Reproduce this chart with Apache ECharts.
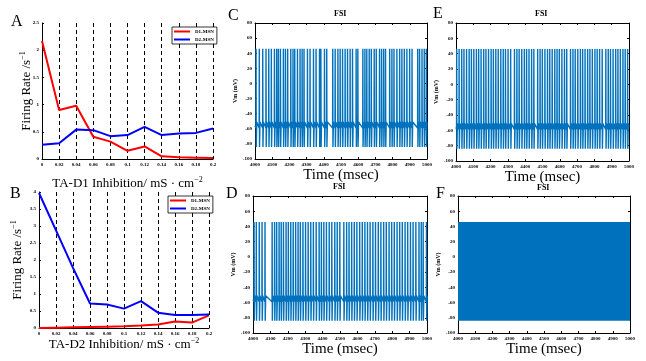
<!DOCTYPE html>
<html>
<head>
<meta charset="utf-8">
<script src="https://cdn.jsdelivr.net/npm/echarts@6/dist/echarts.min.js"></script>
<style>
  html, body { margin: 0; padding: 0; background: #fff; }
  #chart { width: 646px; height: 361px; }
</style>
</head>
<body>
<div id="chart"></div>
<script>
// firing rate vs inhibition (panels A, B)
var inhibition = [0, 0.02, 0.04, 0.06, 0.08, 0.1, 0.12, 0.14, 0.16, 0.18, 0.2];
var d1RateA = [2.17, 0.90, 0.98, 0.41, 0.32, 0.15, 0.23, 0.05, 0.03, 0.025, 0.02];
var d2RateA = [0.26, 0.29, 0.54, 0.53, 0.42, 0.44, 0.59, 0.44, 0.47, 0.48, 0.56];
var d1RateB = [0.0, 0.01, 0.02, 0.03, 0.04, 0.05, 0.07, 0.10, 0.19, 0.16, 0.37];
var d2RateB = [3.97, 2.87, 1.77, 0.72, 0.69, 0.57, 0.79, 0.45, 0.38, 0.38, 0.40];

// FSI spike times, msec (panels C, D, E)
var spikesC = [4006, 4025, 4045, 4064, 4080, 4095, 4113, 4126, 4136, 4148, 4165, 4177, 4190, 4208, 4221, 4231,
  4247, 4262, 4274, 4285, 4305, 4320, 4340, 4355, 4375, 4383, 4404, 4417, 4452, 4466, 4482, 4495, 4509, 4524,
  4538, 4553, 4567, 4588, 4598, 4627, 4639, 4650, 4664, 4676, 4693, 4705, 4724, 4736, 4748, 4759, 4783, 4796,
  4808, 4825, 4841, 4854, 4868, 4883, 4899, 4913, 4946, 4957, 4971, 4984, 4996];
var spikesD = [4006, 4019, 4036, 4052, 4069, 4110, 4124, 4136, 4150, 4162, 4175, 4190, 4203, 4217, 4231, 4245,
  4259, 4272, 4287, 4302, 4317, 4332, 4347, 4363, 4380, 4393, 4407, 4422, 4438, 4453, 4470, 4484, 4499, 4522,
  4538, 4552, 4567, 4582, 4597, 4613, 4628, 4643, 4658, 4673, 4689, 4704, 4720, 4735, 4751, 4766, 4782, 4797,
  4812, 4828, 4843, 4858, 4874, 4889, 4905, 4920, 4936, 4954, 4967, 4978, 4997];
var spikesE = [4004, 4018, 4033, 4046, 4061, 4076, 4089, 4103, 4118, 4131, 4145, 4160, 4173, 4188, 4203, 4216,
  4230, 4244, 4259, 4273, 4286, 4301, 4316, 4338, 4352, 4365, 4380, 4395, 4408, 4422, 4437, 4450, 4472, 4486,
  4499, 4514, 4529, 4542, 4556, 4571, 4584, 4597, 4612, 4627, 4640, 4662, 4676, 4689, 4704, 4719, 4732, 4746,
  4761, 4774, 4788, 4803, 4816, 4830, 4845, 4866, 4880, 4893, 4908, 4923, 4936, 4950, 4965, 4978, 4992];
// panel F fires too fast to resolve: spike envelope [start, end, trough, peak]
var bandF = [[4000, 5000, -84, 46]];

// voltage levels of a spike, mV
var vPeak = 46, vTrough = -84, vRecover = -51, vPre = -59;

var serif = 'Liberation Serif';
var blue = '#0072BD';

function trace(spikes) {
  var pts = [[4000, -56]];
  spikes.forEach(function (t) {
    pts.push([t - 0.8, vPre], [t, vPeak], [t + 1.2, vTrough], [t + 4, vRecover]);
  });
  pts.push([5000, -56]);
  return pts;
}
function pairs(xs, ys) {
  return xs.map(function (x, i) { return [x, ys[i]]; });
}

var grids = [
  {left: 42, top: 23, width: 171, height: 136},   // A
  {left: 39, top: 192, width: 170, height: 136},  // B
  {left: 255, top: 23, width: 172, height: 136},  // C
  {left: 253, top: 196, width: 174, height: 137}, // D
  {left: 456, top: 23, width: 173, height: 138},  // E
  {left: 458, top: 196, width: 172, height: 137}  // F
];

var tinyLabel = {
  fontFamily: serif, fontSize: 5, fontWeight: 'bold', color: '#000', margin: 3,
  formatter: function (v) { return String(v); }
};
var xAxes = [], yAxes = [];

// A, B axes
[{name: 'TA-D1', max: 2.5, gap: 17, ygap: 7}, {name: 'TA-D2', max: 4, gap: 9, ygap: 13}].forEach(function (p, i) {
  xAxes.push({
    gridIndex: i, type: 'value', min: 0, max: 0.2, interval: 0.02,
    name: '{t|' + p.name + ' Inhibition/ mS · cm}{s|−2}', nameLocation: 'middle', nameGap: p.gap,
    nameTextStyle: {rich: {t: {fontFamily: serif, fontSize: 13, color: '#000'}, s: {fontFamily: serif, fontSize: 8, color: '#000', verticalAlign: 'top', padding: [0, 0, 8, 0]}}},
    axisLine: {lineStyle: {color: '#000', width: 1}},
    axisTick: {inside: true, length: 2, lineStyle: {color: '#000'}},
    axisLabel: tinyLabel,
    splitLine: {show: true, lineStyle: {color: '#000', type: [4, 3], width: 1}}
  });
  yAxes.push({
    gridIndex: i, type: 'value', min: 0, max: p.max, interval: 0.5,
    name: '{t|Firing Rate /s}{s|−1}', nameLocation: 'middle', nameGap: p.ygap, nameMoveOverlap: false,
    nameTextStyle: {rich: {t: {fontFamily: serif, fontSize: 13, color: '#000'}, s: {fontFamily: serif, fontSize: 8, color: '#000', verticalAlign: 'top', padding: [0, 0, 8, 0]}}},
    axisLine: {show: true, lineStyle: {color: '#000', width: 1}},
    axisTick: {show: true, inside: true, length: 2, lineStyle: {color: '#000'}},
    axisLabel: tinyLabel,
    splitLine: {show: false}
  });
});

// C-F axes, boxed with inward ticks
[2, 3, 4, 5].forEach(function (g) {
  var nameGapX = g === 3 || g === 5 ? 8 : 6;
  xAxes.push({
    gridIndex: g, type: 'value', min: 4000, max: 5000, interval: 100,
    name: 'Time (msec)', nameLocation: 'middle', nameGap: nameGapX,
    nameTextStyle: {fontFamily: serif, fontSize: 15, color: '#000'},
    axisLine: {onZero: false, lineStyle: {color: '#000', width: 1}},
    axisTick: {inside: true, length: 2, lineStyle: {color: '#000'}},
    axisLabel: tinyLabel, splitLine: {show: false}
  });
  xAxes.push({
    gridIndex: g, type: 'value', position: 'top', min: 4000, max: 5000, interval: 100,
    axisLine: {onZero: false, lineStyle: {color: '#000', width: 1}},
    axisTick: {inside: true, length: 2, lineStyle: {color: '#000'}},
    axisLabel: {show: false}, splitLine: {show: false}
  });
  yAxes.push({
    gridIndex: g, type: 'value', min: -100, max: 80, interval: 20,
    name: 'Vm (mV)', nameLocation: 'middle', nameGap: 13,
    nameTextStyle: {fontFamily: serif, fontSize: 6, fontWeight: 'bold', color: '#000'},
    axisLine: {show: true, onZero: false, lineStyle: {color: '#000', width: 1}},
    axisTick: {show: true, inside: true, length: 2, lineStyle: {color: '#000'}},
    axisLabel: tinyLabel, splitLine: {show: false}
  });
  yAxes.push({
    gridIndex: g, type: 'value', position: 'right', min: -100, max: 80, interval: 20,
    axisLine: {show: true, onZero: false, lineStyle: {color: '#000', width: 1}},
    axisTick: {show: true, inside: true, length: 2, lineStyle: {color: '#000'}},
    axisLabel: {show: false}, splitLine: {show: false}
  });
});
// x axis indices: A=0, B=1, C=2, D=4, E=6, F=8 ; y the same

var lineStyleSeries = function (name, color, data, idx) {
  return {
    name: name, type: 'line', xAxisIndex: idx, yAxisIndex: idx, data: data,
    symbol: 'none', lineStyle: {color: color, width: 2}, itemStyle: {color: color}, animation: false
  };
};
var spikeSeries = function (spikes, idx) {
  return {
    type: 'line', xAxisIndex: idx, yAxisIndex: idx, data: trace(spikes), symbol: 'none',
    lineStyle: {color: blue, width: 1.4}, animation: false, silent: true
  };
};

var legendBox = function (left, top) {
  return {
    data: [{name: 'D1-MSN', icon: 'rect'}, {name: 'D2-MSN', icon: 'rect'}],
    orient: 'vertical', left: left, top: top,
    itemWidth: 16, itemHeight: 2, itemGap: 3, padding: [2, 3, 2, 2],
    backgroundColor: '#fff', borderColor: '#000', borderWidth: 0.8,
    textStyle: {fontFamily: serif, fontSize: 5, fontWeight: 'bold', color: '#000'}
  };
};

var letter = function (t, left, top) {
  return {type: 'text', left: left, top: top, style: {text: t, font: '16px "Liberation Serif"', fill: '#000'}};
};
var fsi = function (cx, top) {
  return {type: 'text', left: cx - 7, top: top, style: {text: 'FSI', font: 'bold 8px "Liberation Serif"', fill: '#000'}};
};

var chart = echarts.init(document.getElementById('chart'), null, {renderer: 'canvas'});
chart.setOption({
  backgroundColor: '#fff',
  animation: false,
  grid: grids,
  xAxis: xAxes,
  yAxis: yAxes,
  legend: [legendBox(172, 27), legendBox(168, 196)],
  graphic: [
    letter('A', 11, 14), letter('B', 10, 186), letter('C', 228, 8),
    letter('D', 226, 186), letter('E', 433, 6), letter('F', 436, 186),
    fsi(341, 10), fsi(340, 183), fsi(542, 10), fsi(544, 184)
  ],
  series: [
    lineStyleSeries('D1-MSN', '#ff0000', pairs(inhibition, d1RateA), 0),
    lineStyleSeries('D2-MSN', '#0000ff', pairs(inhibition, d2RateA), 0),
    lineStyleSeries('D1-MSN', '#ff0000', pairs(inhibition, d1RateB), 1),
    lineStyleSeries('D2-MSN', '#0000ff', pairs(inhibition, d2RateB), 1),
    spikeSeries(spikesC, 2),
    spikeSeries(spikesD, 4),
    spikeSeries(spikesE, 6),
    {
      type: 'custom', xAxisIndex: 8, yAxisIndex: 8, data: bandF, silent: true,
      encode: {x: [0, 1], y: [2, 3]},
      renderItem: function (params, api) {
        var p1 = api.coord([api.value(0), api.value(3)]);
        var p2 = api.coord([api.value(1), api.value(2)]);
        return {type: 'rect', shape: {x: p1[0], y: p1[1], width: p2[0] - p1[0], height: p2[1] - p1[1]}, style: {fill: blue}};
      }
    }
  ]
});
</script>
</body>
</html>
